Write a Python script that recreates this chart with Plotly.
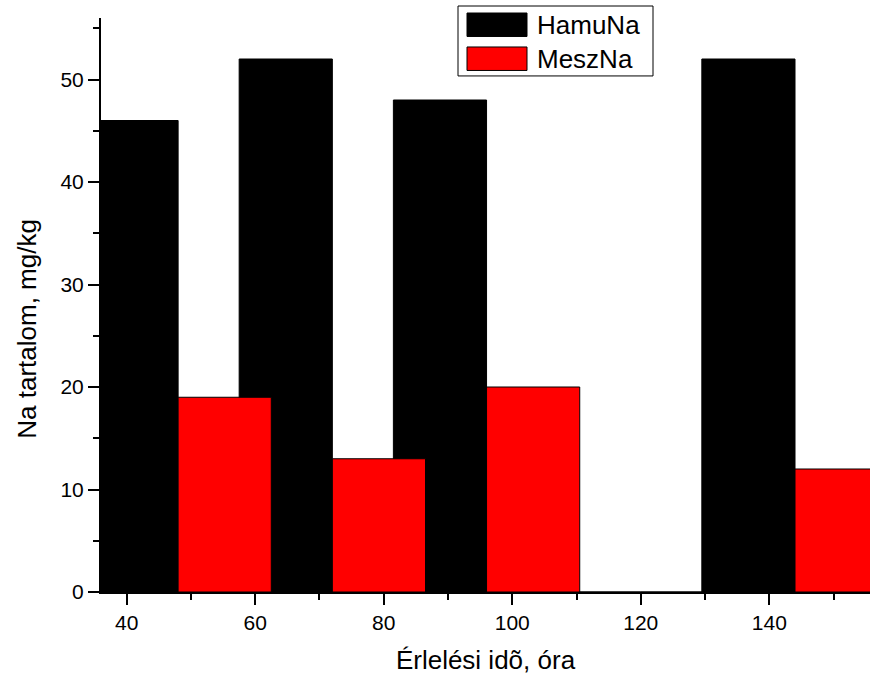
import plotly.graph_objects as go

# Maturation times (hours) and sodium content (mg/kg)
hours = [48, 72, 96, 120, 144]
hamu_na = [46, 52, 48, 0, 52]
mesz_na = [19, 13, 20, 0, 12]
series_names = ["HamuNa", "MeszNa"]

BAR_W = 14.5
COLORS = ["#000000", "#FF0000"]
FONT = "Arial, Liberation Sans, sans-serif"

W, H = 870, 677
ML, MR, MT, MB = 101, 0, 18, 84.5
PW, PH = W - ML - MR, H - MT - MB


def px_x(p):
    return (p - ML) / PW


def px_y(p):
    return (H - MB - p) / PH


fig = go.Figure()
for vals, name, col, off in [(hamu_na, series_names[0], COLORS[0], -BAR_W),
                             (mesz_na, series_names[1], COLORS[1], 0)]:
    fig.add_trace(go.Bar(
        x=hours, y=vals, name=name, width=BAR_W, offset=off,
        marker=dict(color=col, line=dict(color="#000000", width=1)),
        showlegend=False,
    ))

axis_common = dict(
    showline=True, linecolor="black", linewidth=2,
    ticks="outside", ticklen=11, tickwidth=2, tickcolor="black",
    showgrid=False, zeroline=False,
    tickfont=dict(family=FONT, size=21, color="black"),
)

fig.update_layout(
    width=W, height=H,
    margin=dict(l=ML, r=MR, t=MT, b=MB, pad=0),
    paper_bgcolor="white", plot_bgcolor="white",
    barmode="overlay",
    showlegend=False,
    xaxis=dict(
        range=[36, 155.67], tick0=40, dtick=20,
        minor=dict(dtick=10, ticks="outside", ticklen=6, tickwidth=2, tickcolor="black"),
        title=dict(text="Érlelési idõ, óra", font=dict(family=FONT, size=26, color="black"),
                   standoff=18),
        **axis_common,
    ),
    yaxis=dict(
        range=[0, 56], tick0=0, dtick=10,
        minor=dict(dtick=5, ticks="outside", ticklen=6, tickwidth=2, tickcolor="black"),
        ticklabelstandoff=0,
        **axis_common,
    ),
)

# Y axis title
fig.add_annotation(
    text="Na tartalom, mg/kg", textangle=-90,
    xref="paper", yref="paper", x=px_x(27), y=px_y(329),
    xanchor="center", yanchor="middle", showarrow=False,
    font=dict(family=FONT, size=26, color="black"),
)

# Legend box with large swatches
fig.add_shape(type="rect", xref="paper", yref="paper",
              x0=px_x(458), x1=px_x(653), y0=px_y(6), y1=px_y(76),
              line=dict(color="black", width=1), fillcolor="white", layer="above")
for i, (name, col) in enumerate(zip(series_names, COLORS)):
    top = 13 + i * 34
    fig.add_shape(type="rect", xref="paper", yref="paper",
                  x0=px_x(467), x1=px_x(527), y0=px_y(top), y1=px_y(top + 23.5),
                  line=dict(color="black", width=1), fillcolor=col, layer="above")
    fig.add_annotation(
        text=name, xref="paper", yref="paper",
        x=px_x(535), y=px_y(top + 12), xanchor="left", yanchor="middle",
        showarrow=False, font=dict(family=FONT, size=26, color="black"),
    )

fig.write_html("out.html")
